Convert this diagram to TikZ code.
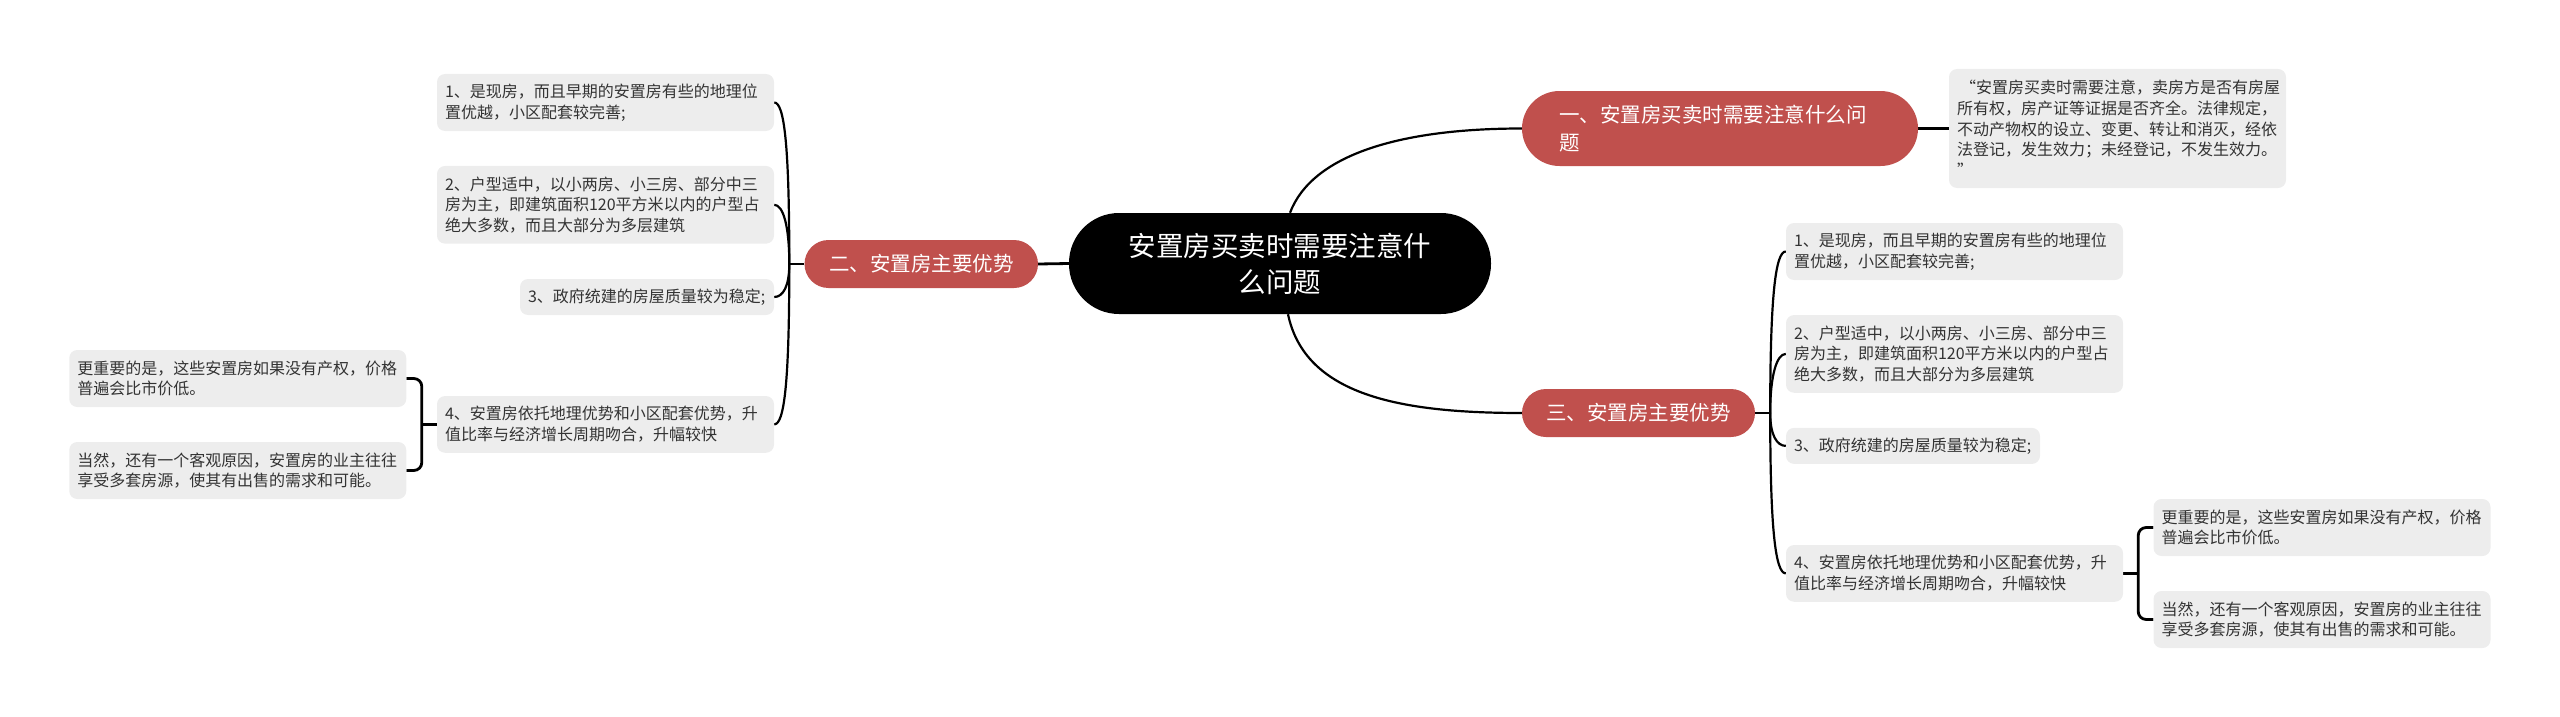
\documentclass[tikz,border=0pt]{standalone}
\usepackage{fontspec}
\setmainfont{Noto Sans CJK SC}
\usetikzlibrary{backgrounds}
\definecolor{boxgray}{HTML}{EDEDED}
\definecolor{topicred}{HTML}{C0504D}
\definecolor{bodytext}{HTML}{333333}
\tikzset{
  tbox/.style 2 args={draw=none,fill=boxgray,rounded corners=8pt,text=bodytext,
    inner xsep=8pt,inner ysep=0pt,align=left,text width=#1pt,minimum height=#2pt,
    font=\fontsize{16}{20.7}\selectfont},
  topic/.style 2 args={fill=topicred,text=white,rounded corners=#2pt,inner xsep=0pt,inner ysep=0pt,
    align=center,minimum width=#1pt,minimum height=2*#2pt,font=\fontsize{20.5}{27.7}\selectfont},
  root/.style={fill=black,text=white,rounded corners=50pt,inner sep=0pt,align=center,
    minimum width=422pt,minimum height=101pt,font=\fontsize{27.5}{36}\selectfont},
  conn/.style={draw=black,line width=2.2pt},
  stem/.style={draw=black,line width=2.8pt}
}
\begin{document}
\begin{tikzpicture}[x=1pt,y=-1pt]
\useasboundingbox (0,0) rectangle (2560,717);
% root and topics
\node[root] (c) at (1280,263.5) {安置房买卖时需要注意什\\么问题};
\node[topic={233.5}{24}] (rL) at (921.25,264) {二、安置房主要优势};
\node[topic={396}{37.5},align=left,inner xsep=37pt,text width=322pt] (r1) at (1720,128.5) {一、安置房买卖时需要注意什么问\\题};
\node[topic={233}{24}] (r3) at (1638.5,413) {三、安置房主要优势};
% left details
\node[tbox={321}{57}] (L1) at (605.5,102.5) {1、是现房，而且早期的安置房有些的地理位\\置优越，小区配套较完善;};
\node[tbox={321}{77.7}] (L2) at (605.5,204.8) {2、户型适中，以小两房、小三房、部分中三\\房为主，即建筑面积120平方米以内的户型占\\绝大多数，而且大部分为多层建筑};
\node[tbox={238}{36}] (L3) at (647,297) {3、政府统建的房屋质量较为稳定;};
\node[tbox={321}{56.7}] (L4) at (605.5,424.4) {4、安置房依托地理优势和小区配套优势，升\\值比率与经济增长周期吻合，升幅较快};
\node[tbox={321}{57}] (LL1) at (237.75,378.5) {更重要的是，这些安置房如果没有产权，价格\\普遍会比市价低。};
\node[tbox={321}{57}] (LL2) at (237.75,470.5) {当然，还有一个客观原因，安置房的业主往往\\享受多套房源，使其有出售的需求和可能。};
% right details
\node[tbox={321}{119}] (TR) at (2117.5,128.5) {\hspace*{3pt}“安置房买卖时需要注意，卖房方是否有房屋\\所有权，房产证等证据是否齐全。法律规定，\\不动产物权的设立、变更、转让和消灭，经依\\法登记，发生效力；未经登记，不发生效力。\\”};
\node[tbox={321}{57}] (R1) at (1954.5,251.5) {1、是现房，而且早期的安置房有些的地理位\\置优越，小区配套较完善;};
\node[tbox={321}{77.7}] (R2) at (1954.5,353.9) {2、户型适中，以小两房、小三房、部分中三\\房为主，即建筑面积120平方米以内的户型占\\绝大多数，而且大部分为多层建筑};
\node[tbox={238}{36}] (R3) at (1913,445.9) {3、政府统建的房屋质量较为稳定;};
\node[tbox={321}{56.7}] (R4) at (1954.5,573.4) {4、安置房依托地理优势和小区配套优势，升\\值比率与经济增长周期吻合，升幅较快};
\node[tbox={321}{57}] (R41) at (2322,527.5) {更重要的是，这些安置房如果没有产权，价格\\普遍会比市价低。};
\node[tbox={321}{57}] (R42) at (2322,619.5) {当然，还有一个客观原因，安置房的业主往往\\享受多套房源，使其有出售的需求和可能。};
% connectors
\begin{scope}[on background layer]
\draw[conn] (c.north) ++(10,0) .. controls +(22,-58) and +(-122,0) .. (r1.west);
\draw[conn] (c.south) ++(8,0) .. controls +(17,81) and +(-122,0) .. (r3.west);
\draw[stem] (c.west) -- (rL.east);
\draw[stem] (r1.east) -- (TR.west);
\draw[stem] (rL.west) -- ++(-15,0) coordinate (tL);
\draw[conn] (tL) .. controls +(0,-120) and +(10,0) .. (L1.east);
\draw[conn] (tL) .. controls +(0,-38) and +(9,0) .. (L2.east);
\draw[conn] (tL) .. controls +(0,22) and +(9,0) .. (L3.east);
\draw[conn] (tL) .. controls +(0,120) and +(10,0) .. (L4.east);
\draw[stem] (r3.east) -- ++(15,0) coordinate (tR);
\draw[conn] (tR) .. controls +(0,-120) and +(-10,0) .. (R1.west);
\draw[conn] (tR) .. controls +(0,-38) and +(-9,0) .. (R2.west);
\draw[conn] (tR) .. controls +(0,22) and +(-9,0) .. (R3.west);
\draw[conn] (tR) .. controls +(0,120) and +(-10,0) .. (R4.west);
\draw[stem] (L4.west) -- ++(-15,0) coordinate (tLL);
\draw[stem,rounded corners=8pt] (LL1.east) -| (tLL) |- (LL2.east);
\draw[stem] (R4.east) -- ++(15,0) coordinate (tRR);
\draw[stem,rounded corners=8pt] (R41.west) -| (tRR) |- (R42.west);
\end{scope}
\end{tikzpicture}
\end{document}
